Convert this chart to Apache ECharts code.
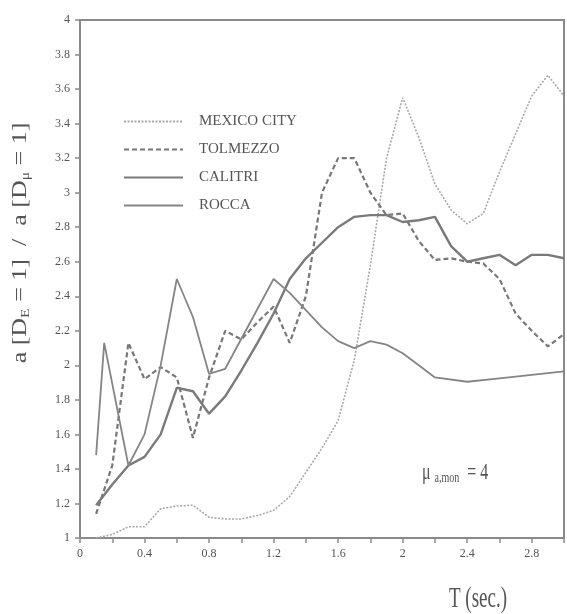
<!DOCTYPE html>
<html>
<head>
<meta charset="utf-8">
<script src="https://cdn.jsdelivr.net/npm/echarts@6/dist/echarts.min.js"></script>
<style>html,body{margin:0;padding:0;background:#fff}#c{width:567px;height:614px}</style>
</head>
<body>
<div id="c"></div>
<script>
const seriesNames = ['MEXICO CITY', 'TOLMEZZO', 'CALITRI', 'ROCCA'];

const mexT = [0.1,0.2,0.3,0.4,0.5,0.6,0.7,0.8,0.9,1.0,1.1,1.2,1.3,1.4,1.5,1.6,1.7,1.8,1.9,2.0,2.1,2.2,2.3,2.4,2.5,2.6,2.7,2.8,2.9,3.0];
const mexV = [1.0,1.02,1.065,1.065,1.17,1.185,1.19,1.12,1.11,1.11,1.13,1.16,1.24,1.38,1.52,1.68,2.03,2.58,3.2,3.55,3.32,3.05,2.9,2.82,2.88,3.12,3.34,3.56,3.68,3.56];

const tolT = [0.1,0.2,0.3,0.4,0.5,0.6,0.7,0.8,0.9,1.0,1.1,1.2,1.3,1.4,1.5,1.6,1.7,1.8,1.9,2.0,2.1,2.2,2.3,2.4,2.5,2.6,2.7,2.8,2.9,3.0];
const tolV = [1.14,1.42,2.13,1.92,1.99,1.93,1.58,1.93,2.20,2.15,2.25,2.34,2.13,2.40,3.0,3.2,3.2,3.0,2.87,2.88,2.72,2.61,2.62,2.60,2.59,2.50,2.30,2.20,2.11,2.18];

const calT = [0.1,0.2,0.3,0.4,0.5,0.6,0.7,0.8,0.9,1.0,1.1,1.2,1.3,1.4,1.5,1.6,1.7,1.8,1.9,2.0,2.1,2.2,2.3,2.4,2.5,2.6,2.7,2.8,2.9,3.0];
const calV = [1.19,1.31,1.42,1.47,1.60,1.87,1.85,1.72,1.82,1.97,2.13,2.30,2.50,2.62,2.71,2.80,2.86,2.87,2.87,2.83,2.84,2.86,2.69,2.60,2.62,2.64,2.58,2.64,2.64,2.62];

const rocT = [0.1,0.15,0.3,0.4,0.5,0.6,0.7,0.8,0.9,1.2,1.3,1.4,1.5,1.6,1.7,1.8,1.9,2.0,2.1,2.2,2.4,2.6,2.8,3.0];
const rocV = [1.48,2.13,1.42,1.60,2.00,2.50,2.28,1.95,1.98,2.50,2.42,2.32,2.22,2.14,2.10,2.14,2.12,2.07,2.00,1.93,1.905,1.925,1.945,1.965];

const xMin = 0, xMax = 3, xStep = 0.2;
const yMin = 1, yMax = 4, yStep = 0.2;

function pairs(t, v) { return t.map((x, i) => [x, v[i]]); }

const serifFont = '"Liberation Serif", "DejaVu Serif", serif';
const textColor = '#555';
const axisColor = '#8a8a8a';

const chart = echarts.init(document.getElementById('c'), null, {renderer: 'canvas'});
chart.setOption({
  animation: false,
  backgroundColor: '#fff',
  grid: {left: 80, top: 20, right: -8, bottom: 76, show: true, borderColor: axisColor, borderWidth: 2, backgroundColor: 'transparent'},
  legend: {
    orient: 'vertical', left: 118, top: 109,
    itemWidth: 59, itemHeight: 14, itemGap: 13,
    data: seriesNames,
    itemStyle: {opacity: 0, borderWidth: 0},
    textStyle: {fontFamily: serifFont, fontSize: 15, color: textColor, padding: [0, 0, 0, 11], lineHeight: 14}
  },
  xAxis: {
    type: 'value', min: xMin, max: xMax, interval: xStep,
    axisLine: {show: true, lineStyle: {color: axisColor, width: 2}},
    axisTick: {show: true, inside: false, length: 5, lineStyle: {color: axisColor, width: 1.5}},
    splitLine: {show: false},
    axisLabel: {
      margin: 10, fontFamily: serifFont, fontSize: 12, color: textColor,
      formatter: function (v) {
        const k = v / 0.4;
        if (Math.abs(k - Math.round(k)) < 1e-6 && v < 2.99) return String(Math.round(v * 10) / 10);
        return '';
      }
    }
  },
  yAxis: {
    type: 'value', min: yMin, max: yMax, interval: yStep,
    axisLine: {show: true, lineStyle: {color: axisColor, width: 2}},
    axisTick: {show: true, inside: false, length: 5, lineStyle: {color: axisColor, width: 1.5}},
    splitLine: {show: false},
    axisLabel: {
      margin: 10, fontFamily: serifFont, fontSize: 12, color: textColor,
      formatter: function (v) { return String(Math.round(v * 10) / 10); }
    }
  },
  series: [
    {name: seriesNames[0], type: 'line', data: pairs(mexT, mexV), symbol: 'none', z: 2,
     lineStyle: {color: '#a8a8a8', width: 1.6, type: [2, 1.5]}, itemStyle: {color: '#a8a8a8'}},
    {name: seriesNames[1], type: 'line', data: pairs(tolT, tolV), symbol: 'none', z: 3,
     lineStyle: {color: '#777', width: 2.2, type: [5, 3]}, itemStyle: {color: '#777'}},
    {name: seriesNames[2], type: 'line', data: pairs(calT, calV), symbol: 'none', z: 4,
     lineStyle: {color: '#7a7a7a', width: 2.4}, itemStyle: {color: '#7a7a7a'}},
    {name: seriesNames[3], type: 'line', data: pairs(rocT, rocV), symbol: 'none', z: 4,
     lineStyle: {color: '#858585', width: 1.8}, itemStyle: {color: '#858585'}}
  ],
  graphic: [
    {
      type: 'text', x: 21, y: 243, rotation: Math.PI / 2, scaleX: 1.3,
      style: {
        text: 'a [D{s|E} = 1]  /  a [D{s|μ} = 1]',
        fontFamily: serifFont, fontSize: 20, fill: textColor,
        align: 'center', verticalAlign: 'middle',
        rich: {s: {fontFamily: serifFont, fontSize: 12, fill: textColor, padding: [10, 0, 0, 0]}}
      }
    },
    {
      type: 'text', x: 478, y: 600, scaleY: 1.5,
      style: {text: 'T (sec.)', fontFamily: serifFont, fontSize: 19, fill: textColor, align: 'center', verticalAlign: 'middle'}
    },
    {
      type: 'text', x: 422, y: 473, scaleY: 1.4,
      style: {
        text: 'μ {s|a,mon}  = 4',
        fontFamily: serifFont, fontSize: 16, fill: textColor, align: 'left', verticalAlign: 'middle',
        rich: {s: {fontFamily: serifFont, fontSize: 10, fill: textColor, padding: [8, 0, 0, 0]}}
      }
    }
  ]
});
</script>
</body>
</html>
